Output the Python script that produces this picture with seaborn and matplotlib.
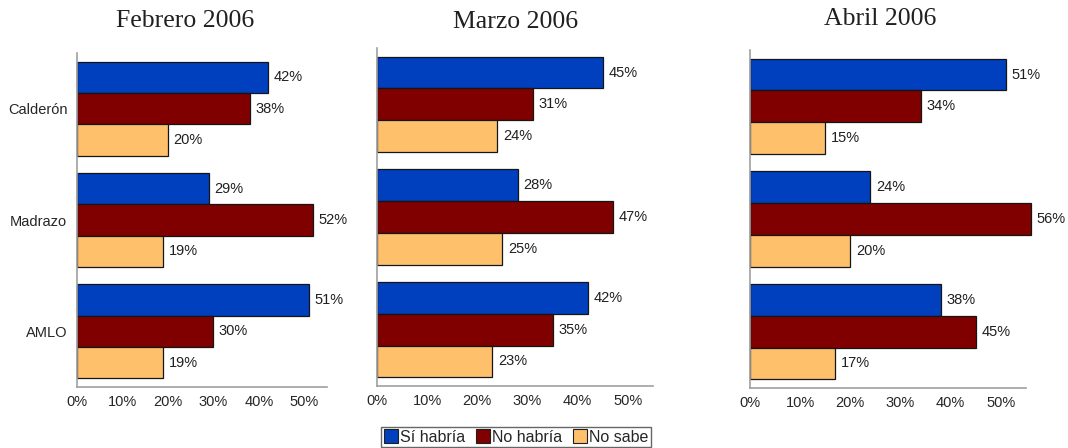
import seaborn as sns
import matplotlib.pyplot as plt
import pandas as pd

# DATA
candidates = ['Calderón', 'Madrazo', 'AMLO']
answers = ['Sí habría', 'No habría', 'No sabe']
months = ['Febrero 2006', 'Marzo 2006', 'Abril 2006']

feb_si = [42, 29, 51]
feb_no = [38, 52, 30]
feb_ns = [20, 19, 19]

mar_si = [45, 28, 42]
mar_no = [31, 47, 35]
mar_ns = [24, 25, 23]

abr_si = [51, 24, 38]
abr_no = [34, 56, 45]
abr_ns = [15, 20, 17]

xticks = [0, 10, 20, 30, 40, 50]

# Build long dataframe
rows = []
for month, series in zip(months, [(feb_si, feb_no, feb_ns),
                                  (mar_si, mar_no, mar_ns),
                                  (abr_si, abr_no, abr_ns)]):
    for answer, values in zip(answers, series):
        for cand, v in zip(candidates, values):
            rows.append({'Mes': month, 'Candidato': cand, 'Respuesta': answer, 'Valor': v})
df = pd.DataFrame(rows)

palette = {'Sí habría': '#0040BF', 'No habría': '#800000', 'No sabe': '#FFC06C'}

# VISUALIZATION
sns.set_style('white')
plt.rcParams['font.family'] = ['Liberation Sans', 'DejaVu Sans']

fig = plt.figure(figsize=(10.68, 4.48), dpi=100)
W, H = 1068, 448
# axes boxes in pixels: left, top, right, bottom
boxes = [(77, 53, 327, 387), (377, 48, 653, 386), (750, 50, 1026, 388)]
# title centres in pixels
title_pos = [(185, 21), (516, 22), (880, 19)]

for i, (month, box) in enumerate(zip(months, boxes)):
    l, t, r, b = box
    ax = fig.add_axes([l / W, 1 - b / H, (r - l) / W, (b - t) / H])
    sub = df[df['Mes'] == month]
    sns.barplot(sub, x='Valor', y='Candidato', hue='Respuesta', orient='h',
                palette=palette, order=candidates, hue_order=answers,
                width=0.845, gap=0, saturation=1, edgecolor='#151515',
                linewidth=0.9, legend=False, ax=ax)
    for p in ax.patches:
        p.set_clip_on(False)
    for c in ax.containers:
        texts = ax.bar_label(c, labels=[f'{int(v)}%' for v in c.datavalues],
                             padding=4, fontsize=10.5, color='#202020')
        for tx in texts:
            tx.set_annotation_clip(False)
    ax.set_xlim(0, 55)
    ax.set_ylim(2.5, -0.5)
    ax.set_xticks(xticks)
    ax.set_xticklabels([f'{x}%' for x in xticks], fontsize=10.5)
    ax.tick_params(axis='x', length=0, pad=6)
    ax.tick_params(axis='y', length=0, pad=7)
    ax.set_xlabel('')
    ax.set_ylabel('')
    if i > 0:
        ax.set_yticklabels([])
    else:
        ax.set_yticklabels(candidates, fontsize=10.5)
    for s in ['top', 'right']:
        ax.spines[s].set_visible(False)
    for s in ['left', 'bottom']:
        ax.spines[s].set_color('#a0a0a0')
        ax.spines[s].set_linewidth(1.2)
    tx_, ty_ = title_pos[i]
    fig.text(tx_ / W, 1 - ty_ / H, month, fontsize=18.5, ha='center', va='center',
             family=['Liberation Serif', 'DejaVu Serif'], color='#202020')

# Legend
handles = [plt.Rectangle((0, 0), 1, 1, facecolor=palette[a], edgecolor='#202020', linewidth=0.8)
           for a in answers]
fig.legend(handles, answers, loc='center', bbox_to_anchor=(516 / W, 1 - 437 / H),
           ncol=3, fontsize=11.5, frameon=True, fancybox=False, edgecolor='#404040',
           handlelength=0.9, handleheight=0.9, handletextpad=0.1, columnspacing=0.7,
           borderpad=0.15, borderaxespad=0)

plt.savefig('out.png', dpi=100)
